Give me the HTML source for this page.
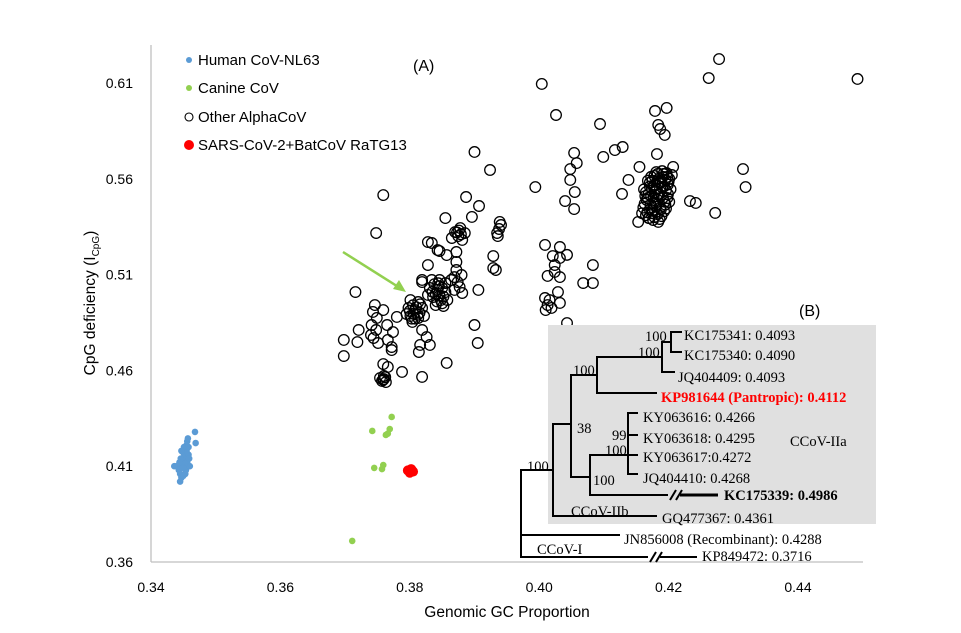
<!DOCTYPE html>
<html><head><meta charset="utf-8"><style>
body{margin:0;background:#fff;}
svg{display:block;}
.tk{font-family:"Liberation Sans",sans-serif;font-size:14px;fill:#000;}
.lg{font-family:"Liberation Sans",sans-serif;font-size:15px;fill:#000;}
.tr{font-family:"Liberation Serif",serif;font-size:14.5px;fill:#000;}
</style></head><body>
<svg id="chart" width="961" height="633" viewBox="0 0 961 633" xmlns="http://www.w3.org/2000/svg">
<g id="axes">
<line x1="151" y1="45" x2="151" y2="562" stroke="#bfbfbf" stroke-width="1.3"/>
<line x1="151" y1="562" x2="863" y2="562" stroke="#bfbfbf" stroke-width="1.3"/>
</g>
<g id="ticks"></g>
<text class="lg" x="507" y="617" text-anchor="middle" style="font-size:15.5px">Genomic GC Proportion</text>
<text class="lg" transform="translate(95,303) rotate(-90)" text-anchor="middle" style="font-size:15.5px">CpG deficiency (I<tspan dy="4" font-size="10">CpG</tspan><tspan dy="-4">)</tspan></text>
<text class="lg" x="413" y="71" style="font-size:16px">(A)</text>
<g id="legend">
<g><circle cx="189" cy="60" r="3" fill="#5b9bd5"/><text class="lg" x="198" y="65">Human CoV-NL63</text></g>
<g><circle cx="189" cy="88" r="3" fill="#92d050"/><text class="lg" x="198" y="93">Canine CoV</text></g>
<g><circle cx="189" cy="117" r="4" fill="none" stroke="#000" stroke-width="1.1"/><text class="lg" x="198" y="122">Other AlphaCoV</text></g>
<g><circle cx="189" cy="145" r="5" fill="#ff0000"/><text class="lg" x="198" y="150">SARS-CoV-2+BatCoV RaTG13</text></g>
</g>
<g id="pts"></g>
<g>
<line x1="343" y1="252" x2="400" y2="288" stroke="#92d050" stroke-width="2.5"/>
<polygon points="406,292 393,289 399,280" fill="#92d050"/>
</g>
<g id="tree">
<rect x="548" y="325" width="328" height="199" fill="#e0e0e0"/>
<g stroke="#000" stroke-width="2" fill="none">
<path d="M682,332 H671 V352 H682"/>
<path d="M671,342 H662 V372 H675"/>
<path d="M662,357 H597 V393 H657"/>
<path d="M638,413 H628 V474 H638 M628,435 H638 M628,455 H638"/>
<path d="M628,455 H590 V495 H668"/>
<path d="M597,375 H571 V477 H590"/>
<path d="M571,424 H553 V516 H657"/>
<path d="M553,470 H521 V557 H648 M521,535 H620"/>
<path d="M680,495 H718" stroke-width="3"/>
<path d="M660,557 H697"/>
<path d="M670,500 L676,490 M676,500 L682,490"/>
<path d="M650,562 L656,552 M656,562 L662,552"/>
</g>
<text class="tr" x="684" y="340">KC175341: 0.4093</text>
<text class="tr" x="684" y="360">KC175340: 0.4090</text>
<text class="tr" x="678" y="382">JQ404409: 0.4093</text>
<text class="tr" x="661" y="402" style="fill:#ff0000;font-weight:bold">KP981644 (Pantropic): 0.4112</text>
<text class="tr" x="643" y="422">KY063616: 0.4266</text>
<text class="tr" x="643" y="443">KY063618: 0.4295</text>
<text class="tr" x="643" y="462">KY063617:0.4272</text>
<text class="tr" x="643" y="483">JQ404410: 0.4268</text>
<text class="tr" x="724" y="500" style="font-weight:bold">KC175339: 0.4986</text>
<text class="tr" x="662" y="523">GQ477367: 0.4361</text>
<text class="tr" x="624" y="544">JN856008 (Recombinant): 0.4288</text>
<text class="tr" x="702" y="561">KP849472: 0.3716</text>
<text class="tr" x="790" y="446">CCoV-IIa</text>
<text class="tr" x="571" y="516">CCoV-IIb</text>
<text class="tr" x="537" y="554">CCoV-I</text>
<g class="tr">
<text class="tr" x="645" y="341">100</text>
<text class="tr" x="638" y="357">100</text>
<text class="tr" x="573" y="375">100</text>
<text class="tr" x="612" y="440">99</text>
<text class="tr" x="605" y="455">100</text>
<text class="tr" x="577" y="433">38</text>
<text class="tr" x="593" y="485">100</text>
<text class="tr" x="527" y="471">100</text>
</g>
<text class="lg" x="799" y="316" style="font-size:16px">(B)</text>
</g>
</svg>
<script>
const xTicks = [0.34, 0.36, 0.38, 0.40, 0.42, 0.44];
const yTicks = [0.36, 0.41, 0.46, 0.51, 0.56, 0.61];
const nl63Points = [[0.3440,0.4100],[0.3443,0.4080],[0.3445,0.4060],[0.3447,0.4040],[0.3445,0.4020],[0.3448,0.4110],[0.3450,0.4130],[0.3452,0.4150],[0.3450,0.4170],[0.3453,0.4190],[0.3455,0.4210],[0.3456,0.4230],[0.3457,0.4245],[0.3452,0.4100],[0.3454,0.4080],[0.3456,0.4120],[0.3458,0.4160],[0.3455,0.4180],[0.3449,0.4090],[0.3446,0.4140],[0.3451,0.4200],[0.3447,0.4180],[0.3453,0.4060],[0.3444,0.4120],[0.3436,0.4100],[0.3458,0.4200],[0.3459,0.4140],[0.3450,0.4050],[0.3460,0.4100],[0.3468,0.4279],[0.3469,0.4221]];
const caninePoints = [[0.3711,0.3710],[0.3742,0.4284],[0.3772,0.4357],[0.3769,0.4294],[0.3763,0.4263],[0.3766,0.4270],[0.3745,0.4091],[0.3757,0.4085],[0.3759,0.4106]];
const sarsPoints = [[0.3799,0.4075],[0.3803,0.4080],[0.3801,0.4070],[0.3805,0.4072],[0.3797,0.4078],[0.3802,0.4085],[0.3800,0.4066]];
const otherPoints = [
[0.4004,0.6095],[0.4278,0.6225],[0.4262,0.6126],[0.4492,0.6121],[0.4026,0.5933],[0.4094,0.5886],[0.4179,0.5954],[0.4197,0.5970],[0.4184,0.5881],[0.4187,0.5860],[0.4194,0.5829],[0.4054,0.5735],[0.4058,0.5682],[0.4048,0.5651],[0.4048,0.5594],[0.4055,0.5531],[0.4040,0.5484],[0.4054,0.5442],[0.4099,0.5714],[0.4117,0.5750],[0.4129,0.5766],[0.4182,0.5729],[0.4155,0.5662],[0.4138,0.5594],[0.4128,0.5521],[0.4315,0.5651],[0.4319,0.5557],[0.4272,0.5422],[0.4233,0.5484],[0.4242,0.5474],[0.3994,0.5557],[0.4207,0.5662],[0.4153,0.5375],[0.4184,0.5375],
[0.4165,0.5410],[0.4171,0.5440],[0.4163,0.5470],[0.4168,0.5500],[0.4165,0.5530],[0.4171,0.5560],[0.4175,0.5590],[0.4178,0.5615],[0.4175,0.5420],[0.4181,0.5455],[0.4183,0.5490],[0.4185,0.5520],[0.4181,0.5550],[0.4188,0.5580],[0.4191,0.5610],[0.4193,0.5430],[0.4195,0.5465],[0.4198,0.5500],[0.4196,0.5540],[0.4199,0.5570],[0.4201,0.5600],[0.4178,0.5400],[0.4189,0.5405],[0.4161,0.5450],[0.4162,0.5545],[0.4203,0.5545],[0.4173,0.5510],[0.4179,0.5530],[0.4191,0.5500],[0.4193,0.5560],[0.4185,0.5600],[0.4169,0.5395],[0.4201,0.5480],[0.4205,0.5620],[0.4159,0.5420],[0.4183,0.5625],[0.4197,0.5630],[0.4176,0.5470],[0.4187,0.5450],[0.4171,0.5580],
[0.4167,0.5425],[0.4172,0.5465],[0.4177,0.5505],[0.4182,0.5545],[0.4187,0.5585],[0.4192,0.5625],[0.4170,0.5395],[0.4175,0.5435],[0.4180,0.5475],[0.4185,0.5515],[0.4190,0.5555],[0.4195,0.5595],[0.4166,0.5490],[0.4169,0.5520],[0.4174,0.5550],[0.4178,0.5570],[0.4183,0.5415],[0.4188,0.5440],[0.4194,0.5480],[0.4199,0.5520],[0.4164,0.5510],[0.4168,0.5590],[0.4196,0.5445],[0.4200,0.5585],[0.4176,0.5385],[0.4186,0.5390],[0.4198,0.5610],[0.4173,0.5610],[0.4181,0.5635],[0.4190,0.5640],
[0.3900,0.5740],[0.3924,0.5646],[0.3887,0.5505],[0.3907,0.5458],[0.3855,0.5395],[0.3748,0.5317],[0.3759,0.5515],[0.3878,0.5343],[0.3870,0.5322],[0.3885,0.5317],[0.3875,0.5301],[0.3865,0.5291],[0.3881,0.5281],[0.3896,0.5401],[0.3941,0.5359],[0.3938,0.5338],[0.3935,0.5317],[0.3936,0.5301],[0.3939,0.5375],[0.3929,0.5197],[0.3929,0.5134],[0.3933,0.5124],
[0.3876,0.5330],[0.3879,0.5310],[0.3873,0.5320],
[0.4009,0.5255],[0.4032,0.5244],[0.4032,0.5187],[0.4024,0.5150],[0.4024,0.5114],[0.4032,0.5087],[0.4013,0.5093],[0.4083,0.5150],[0.4068,0.5056],[0.4083,0.5056],[0.4009,0.4978],[0.4016,0.4967],[0.4013,0.4941],[0.4019,0.4926],[0.4010,0.4915],[0.4032,0.4952],[0.4029,0.5009],[0.4043,0.4847],[0.4030,0.4727],[0.4021,0.5197],[0.4043,0.5203],
[0.3828,0.5270],[0.3834,0.5265],[0.3846,0.5223],[0.3857,0.5202],[0.3872,0.5218],[0.3872,0.5166],[0.3872,0.5124],[0.3869,0.5087],[0.3874,0.5061],[0.3877,0.5035],[0.3864,0.5072],[0.3880,0.5098],[0.3869,0.5020],[0.3828,0.5150],[0.3819,0.5072],[0.3716,0.5009],[0.3906,0.5020],
[0.3834,0.5072],[0.3846,0.5072],[0.3855,0.5056],[0.3831,0.5030],[0.3843,0.5020],[0.3855,0.5009],[0.3836,0.4983],[0.3848,0.4967],[0.3858,0.4967],[0.3840,0.4941],[0.3852,0.4936],[0.3828,0.4994],
[0.3838,0.5050],[0.3845,0.5040],[0.3850,0.5030],[0.3840,0.5000],[0.3846,0.4990],[0.3852,0.4985],[0.3835,0.5010],[0.3842,0.4960],[0.3850,0.4950],[0.3844,0.5055],
[0.3801,0.4967],[0.3813,0.4957],[0.3798,0.4926],[0.3808,0.4915],[0.3819,0.4926],[0.3801,0.4884],[0.3813,0.4873],[0.3822,0.4884],[0.3804,0.4853],[0.3795,0.4894],
[0.3805,0.4940],[0.3810,0.4930],[0.3815,0.4900],[0.3806,0.4895],[0.3800,0.4910],[0.3812,0.4890],[0.3808,0.4870],[0.3816,0.4945],[0.3803,0.4870],
[0.3819,0.4811],[0.3826,0.4774],[0.3780,0.4879],[0.3765,0.4837],[0.3721,0.4811],[0.3719,0.4748],[0.3698,0.4759],[0.3698,0.4675],
[0.3746,0.4941],[0.3743,0.4905],[0.3749,0.4874],[0.3741,0.4837],[0.3748,0.4811],[0.3744,0.4769],[0.3751,0.4743],[0.3740,0.4785],
[0.3766,0.4759],[0.3772,0.4706],[0.3816,0.4733],[0.3814,0.4696],[0.3831,0.4733],[0.3900,0.4837],[0.3905,0.4743],[0.3857,0.4639],[0.3759,0.4633],[0.3766,0.4618],[0.3759,0.4550],[0.3754,0.4560],[0.3763,0.4539],[0.3760,0.4571],[0.3760,0.4555],[0.3757,0.4545],[0.3762,0.4565],[0.3788,0.4592],[0.3819,0.4566],[0.3881,0.5004],[0.3759,0.4915],[0.3774,0.4800],[0.3772,0.4722],[0.3819,0.5061],[0.3843,0.5228]
];
const NS = 'http://www.w3.org/2000/svg';
function xScale(v){ return 151 + (v - 0.34) * 6470; }
function yScale(v){ return 562 - (v - 0.36) * 1916; }
const ticksG = document.getElementById('ticks');
xTicks.forEach(function(t){
  const el = document.createElementNS(NS,'text');
  el.setAttribute('class','tk');
  el.setAttribute('x', xScale(t));
  el.setAttribute('y', 592);
  el.setAttribute('text-anchor','middle');
  el.textContent = t.toFixed(2);
  
  
  ticksG.appendChild(el);
});
yTicks.forEach(function(t){
  const el = document.createElementNS(NS,'text');
  el.setAttribute('class','tk');
  el.setAttribute('x', 133);
  el.setAttribute('y', yScale(t) + 5);
  el.setAttribute('text-anchor','end');
  el.textContent = t.toFixed(2);
  
  
  ticksG.appendChild(el);
});
const ptsG = document.getElementById('pts');
otherPoints.forEach(function(p){
  const c = document.createElementNS(NS,'circle');
  c.setAttribute('cx', xScale(p[0]));
  c.setAttribute('cy', yScale(p[1]));
  c.setAttribute('r', 5.3);
  c.setAttribute('fill','none');
  c.setAttribute('stroke','#000');
  c.setAttribute('stroke-width','1.3');
  
  
  ptsG.appendChild(c);
});
nl63Points.forEach(function(p){
  const c = document.createElementNS(NS,'circle');
  c.setAttribute('cx', xScale(p[0]));
  c.setAttribute('cy', yScale(p[1]));
  c.setAttribute('r', 3.3);
  c.setAttribute('fill','#5b9bd5');
  
  
  ptsG.appendChild(c);
});
caninePoints.forEach(function(p){
  const c = document.createElementNS(NS,'circle');
  c.setAttribute('cx', xScale(p[0]));
  c.setAttribute('cy', yScale(p[1]));
  c.setAttribute('r', 3.3);
  c.setAttribute('fill','#92d050');
  
  
  ptsG.appendChild(c);
});
sarsPoints.forEach(function(p){
  const c = document.createElementNS(NS,'circle');
  c.setAttribute('cx', xScale(p[0]));
  c.setAttribute('cy', yScale(p[1]));
  c.setAttribute('r', 5);
  c.setAttribute('fill','#ff0000');
  
  
  ptsG.appendChild(c);
});
</script>
</body></html>
